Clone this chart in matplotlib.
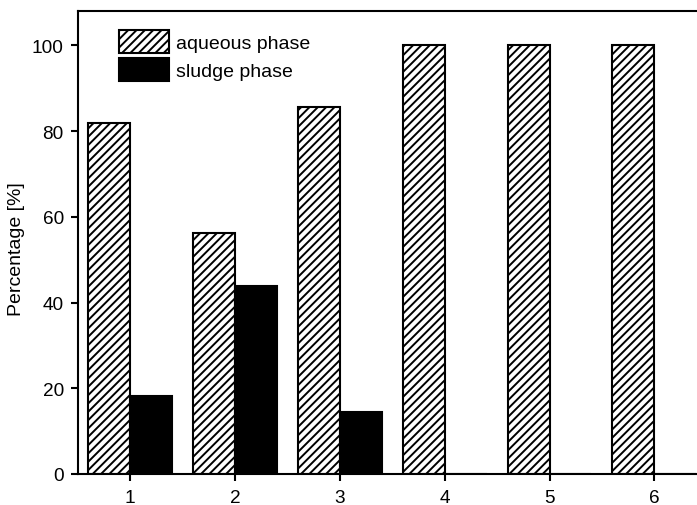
import numpy as np
import matplotlib
matplotlib.use("Agg")
from matplotlib import pyplot as plt

plt.rcParams['font.family'] = ['Liberation Sans', 'DejaVu Sans']
plt.rcParams['hatch.linewidth'] = 1.4

# data
samples = [1, 2, 3, 4, 5, 6]
aqueous = [81.8, 56.2, 85.6, 100, 100, 100]
sludge = [18.2, 43.8, 14.4, 0, 0, 0]
labels = ['aqueous phase', 'sludge phase']

x = np.array(samples)
w = 0.4

fig = plt.figure(figsize=(6.97, 5.06), dpi=100)
ax = fig.add_axes([0.1115, 0.0613, 0.9026, 0.915])

ax.bar(x - w/2, aqueous, width=w, color='white', edgecolor='black',
       hatch='////', linewidth=1.5, label=labels[0])
ax.bar(x + w/2, sludge, width=w, color='black', edgecolor='black',
       linewidth=1.5, label=labels[1])

ax.set_xlim(0.5, 6.5)
ax.set_ylim(0, 108)
ax.set_xticks(samples)
ax.set_yticks([0, 20, 40, 60, 80, 100])
ax.set_ylabel('Percentage [%]', fontsize=14)
ax.yaxis.set_label_coords(-0.083, 0.487)
ax.tick_params(direction='out', length=5, width=1.5, labelsize=13.7)
ax.tick_params(axis='x', pad=6)
ax.tick_params(axis='y', pad=5)
for s in ax.spines.values():
    s.set_linewidth(1.5)

ax.legend(loc='upper left', bbox_to_anchor=(0.0657, 0.959), frameon=False,
          fontsize=14, borderpad=0, borderaxespad=0, handlelength=2.58,
          handleheight=1.45, labelspacing=0.25, handletextpad=0.35)

fig.savefig('out.png', dpi=100)
